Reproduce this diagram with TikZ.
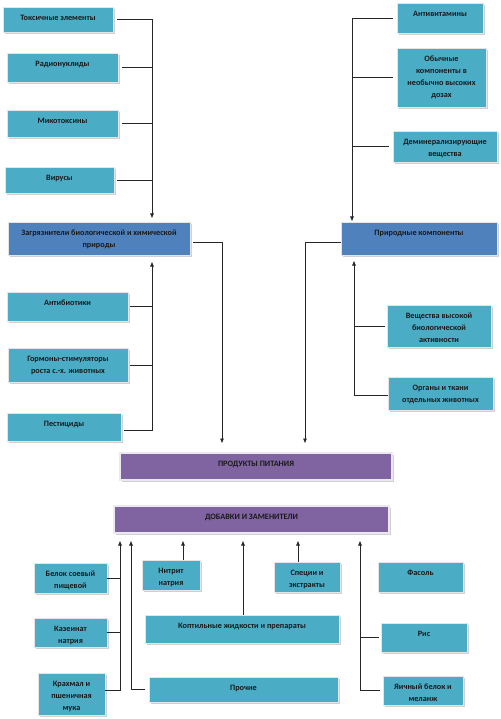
\documentclass[tikz,border=0pt]{standalone}
\usepackage{fontspec}
\setmainfont{Carlito}
\usetikzlibrary{shadows,arrows.meta}
\definecolor{aqua}{HTML}{4BACC6}
\definecolor{dblue}{HTML}{4F81BD}
\definecolor{purp}{HTML}{8064A2}
\tikzset{
  boxbase/.style={inner sep=0pt, outer sep=0pt, draw=black!10, line width=0.8pt,
    drop shadow={shadow xshift=1.8pt, shadow yshift=-1.8pt, fill=black!30, opacity=0.6}},
  aquabox/.style={boxbase, fill=aqua},
  bluebox/.style={boxbase, fill=dblue},
  purpbox/.style={boxbase, fill=purp, draw=purp!15, line width=1.2pt},
  lbl/.style={inner sep=0pt, align=center, font=\bfseries\fontsize{8.2}{12}\selectfont, text=black!90},
  conn/.style={draw=black!85, line width=0.8pt},
  arr/.style={conn, -{Triangle[length=4.5pt,width=3.5pt]}}
}
\newcommand\mybox[7]{%
  \node[#1, minimum width=#5pt, minimum height=#6pt] (#2) at (#3,#4) {};
  \node[lbl, anchor=north] (#2t) at ([yshift=-7.5pt]#2.north) {#7};}
\begin{document}
\begin{tikzpicture}[x=1pt,y=-1pt]
\useasboundingbox[fill=white] (0,0) rectangle (500,719);
% top-left group
\mybox{aquabox}{tox}{58}{19.5}{110}{25}{Токсичные элементы}
\mybox{aquabox}{rad}{62.5}{67.5}{111}{29}{Радионуклиды}
\mybox{aquabox}{myc}{62.5}{123.5}{111}{27}{Микотоксины}
\mybox{aquabox}{vir}{59.5}{180}{109}{26}{Вирусы}
\mybox{bluebox}{zag}{99}{238.5}{182}{33}{Загрязнители биологической и химической\\природы}
\mybox{aquabox}{ant}{67.5}{306.5}{121}{29}{Антибиотики}
\mybox{aquabox}{gorm}{68}{365}{120}{34}{Гормоны-стимуляторы\\роста с.-х. животных}
\mybox{aquabox}{pest}{64}{427}{114}{28}{Пестициды}
% right group
\mybox{aquabox}{avit}{440}{18}{86}{30}{Антивитамины}
\mybox{aquabox}{obych}{441.5}{77.5}{89}{59}{Обычные\\компоненты в\\необычно высоких\\дозах}
\mybox{aquabox}{demin}{445}{146.5}{104}{31}{Деминерализирующие\\вещества}
\mybox{bluebox}{prir}{419}{238.5}{156}{33}{Природные компоненты}
\mybox{aquabox}{vesch}{439}{326}{104}{42}{Вещества высокой\\биологической\\активности}
\mybox{aquabox}{organ}{440.5}{393.5}{105}{33}{Органы и ткани\\отдельных животных}
% centre
\mybox{purpbox}{prod}{256}{466.5}{272}{27}{ПРОДУКТЫ ПИТАНИЯ}
\mybox{purpbox}{dob}{251.5}{519.5}{275}{27}{ДОБАВКИ И ЗАМЕНИТЕЛИ}
% bottom
\mybox{aquabox}{belok}{70.5}{578}{73}{30}{Белок соевый\\пищевой}
\mybox{aquabox}{kazein}{70.5}{632.5}{73}{29}{Казеинат\\натрия}
\mybox{aquabox}{krahm}{71.5}{694}{67}{42}{Крахмал и\\пшеничная\\мука}
\mybox{aquabox}{nitr}{171}{575}{58}{30}{Нитрит\\натрия}
\mybox{aquabox}{kopt}{242}{629}{194}{28}{Коптильные жидкости и препараты}
\mybox{aquabox}{proch}{243.5}{689.5}{189}{25}{Прочие}
\mybox{aquabox}{spec}{307}{577}{66}{30}{Специи и\\экстракты}
\mybox{aquabox}{fas}{420.5}{577}{85}{30}{Фасоль}
\mybox{aquabox}{ris}{424}{637.5}{86}{29}{Рис}
\mybox{aquabox}{yaich}{423}{690.5}{80}{29}{Яичный белок и\\меланж}
% bus coordinates
\coordinate (bTL) at (152,0);
\coordinate (bZ) at (222,0);
\coordinate (bTR) at (352,0);
\coordinate (bP) at (305,0);
\coordinate (bBR) at (354,0);
\coordinate (b1) at (120,0);
\coordinate (b2) at (131,0);
\coordinate (b3) at (360,0);
% top-left connectors
\draw[conn, shorten <=4pt] (tox.east) -- (tox.east -| bTL);
\draw[conn, shorten <=4pt] (rad.east) -- (rad.east -| bTL);
\draw[conn, shorten <=4pt] (myc.east) -- (myc.east -| bTL);
\draw[conn, shorten <=3pt] (vir.east) -- (vir.east -| bTL);
\draw[arr, shorten >=4pt] (tox.east -| bTL) -- (bTL |- zag.north);
% lower-left connectors
\draw[conn, shorten <=2pt] (ant.east) -- (ant.east -| bTL);
\draw[conn, shorten <=2pt] (gorm.east) -- (gorm.east -| bTL);
\draw[arr, shorten <=3pt, shorten >=7pt] ([yshift=-3pt]pest.east) -| (bTL |- zag.south);
% zag -> prod
\draw[arr, shorten <=3pt, shorten >=10pt] ([yshift=-3.5pt]zag.east) -| (bZ |- prod.north);
% right top connectors
\draw[conn, shorten <=4pt] (obych.west) -- (obych.west -| bTR);
\draw[conn, shorten <=4pt] (demin.west) -- (demin.west -| bTR);
\draw[arr, shorten <=4pt, shorten >=1pt] (avit.west) -| (bTR |- prir.north);
% prir -> prod
\draw[arr, shorten >=10pt] ([yshift=-3.5pt]prir.west) -| (bP |- prod.north);
% right lower connectors
\draw[conn, shorten <=2pt] (vesch.west) -- (vesch.west -| bBR);
\draw[arr, shorten >=6pt] ([yshift=-1.5pt]organ.west) -| (bBR |- prir.south);
% bottom connectors
\draw[conn] (belok.east) -- (belok.east -| b1);
\draw[conn] (kazein.east) -- (kazein.east -| b1);
\draw[arr, shorten >=8pt] ([yshift=4pt]krahm.east) -| (b1 |- dob.south);
\draw[arr, shorten <=4pt, shorten >=8pt] (proch.west) -| (b2 |- dob.south);
\draw[arr, shorten >=8pt] ([xshift=12pt]nitr.north) -- ([xshift=12pt]nitr.north |- dob.south);
\draw[arr, shorten >=8pt] ([xshift=1pt]kopt.north) -- ([xshift=1pt]kopt.north |- dob.south);
\draw[arr, shorten >=8pt] ([xshift=-9pt]spec.north) -- ([xshift=-9pt]spec.north |- dob.south);
\draw[conn, shorten <=2pt] (ris.west) -- (ris.west -| b3);
\draw[arr, shorten <=3pt, shorten >=8pt] (yaich.west) -| (b3 |- dob.south);
\end{tikzpicture}
\end{document}
